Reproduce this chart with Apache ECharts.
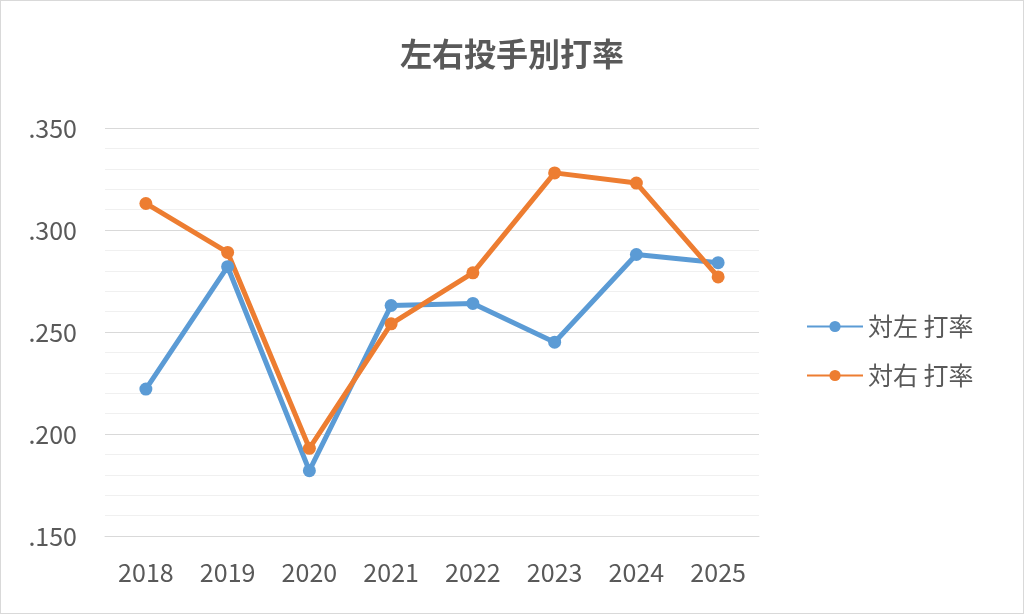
<!DOCTYPE html>
<html><head><meta charset="utf-8">
<script src="https://cdn.jsdelivr.net/npm/echarts@6/dist/echarts.min.js"></script>
<style>html,body{margin:0;padding:0;background:#fff}#c{width:1022px;height:612px;border:1px solid #d9d9d9}</style>
</head><body><div id="c"></div>
<script>
const categories = ['2018','2019','2020','2021','2022','2023','2024','2025'];
const vsLeft = [0.222, 0.282, 0.182, 0.263, 0.264, 0.245, 0.288, 0.284];
const vsRight = [0.313, 0.289, 0.193, 0.254, 0.279, 0.328, 0.323, 0.277];
const seriesNames = ['対左 打率', '対右 打率'];
const font = '"Noto Sans CJK JP", "Noto Sans", sans-serif';
const chart = echarts.init(document.getElementById('c'));
chart.setOption({
  animation: false,
  title: { text: '左右投手別打率', left: 'center', top: 32,
    textStyle: { fontFamily: font, fontSize: 32, fontWeight: 'bold', color: '#595959' } },
  legend: { orient: 'vertical', left: 800, top: 308, itemGap: 24, itemWidth: 56, itemHeight: 14,
    textStyle: { fontFamily: font, fontSize: 25, color: '#595959' }, data: seriesNames },
  grid: { left: 104, right: 264, top: 127, bottom: 77 },
  xAxis: { type: 'category', data: categories,
    axisLine: { lineStyle: { color: '#d9d9d9' } }, axisTick: { show: false },
    axisLabel: { fontFamily: font, fontSize: 25, color: '#595959', margin: 24 } },
  yAxis: { type: 'value', min: 0.15, max: 0.35, interval: 0.05,
    axisLine: { show: false }, axisTick: { show: false },
    axisLabel: { fontFamily: font, fontSize: 25, color: '#595959', margin: 28,
      formatter: v => '.' + Math.round(v * 1000).toString() },
    splitLine: { lineStyle: { color: '#d9d9d9' } },
    minorTick: { show: false, splitNumber: 5 },
    minorSplitLine: { show: true, lineStyle: { color: '#f0f0f0' } } },
  series: [
    { name: seriesNames[0], type: 'line', data: vsLeft, symbol: 'circle', symbolSize: 13,
      lineStyle: { width: 5, color: '#5b9bd5' }, itemStyle: { color: '#5b9bd5' } },
    { name: seriesNames[1], type: 'line', data: vsRight, symbol: 'circle', symbolSize: 13,
      lineStyle: { width: 5, color: '#ed7d31' }, itemStyle: { color: '#ed7d31' } }
  ]
});
</script></body></html>
